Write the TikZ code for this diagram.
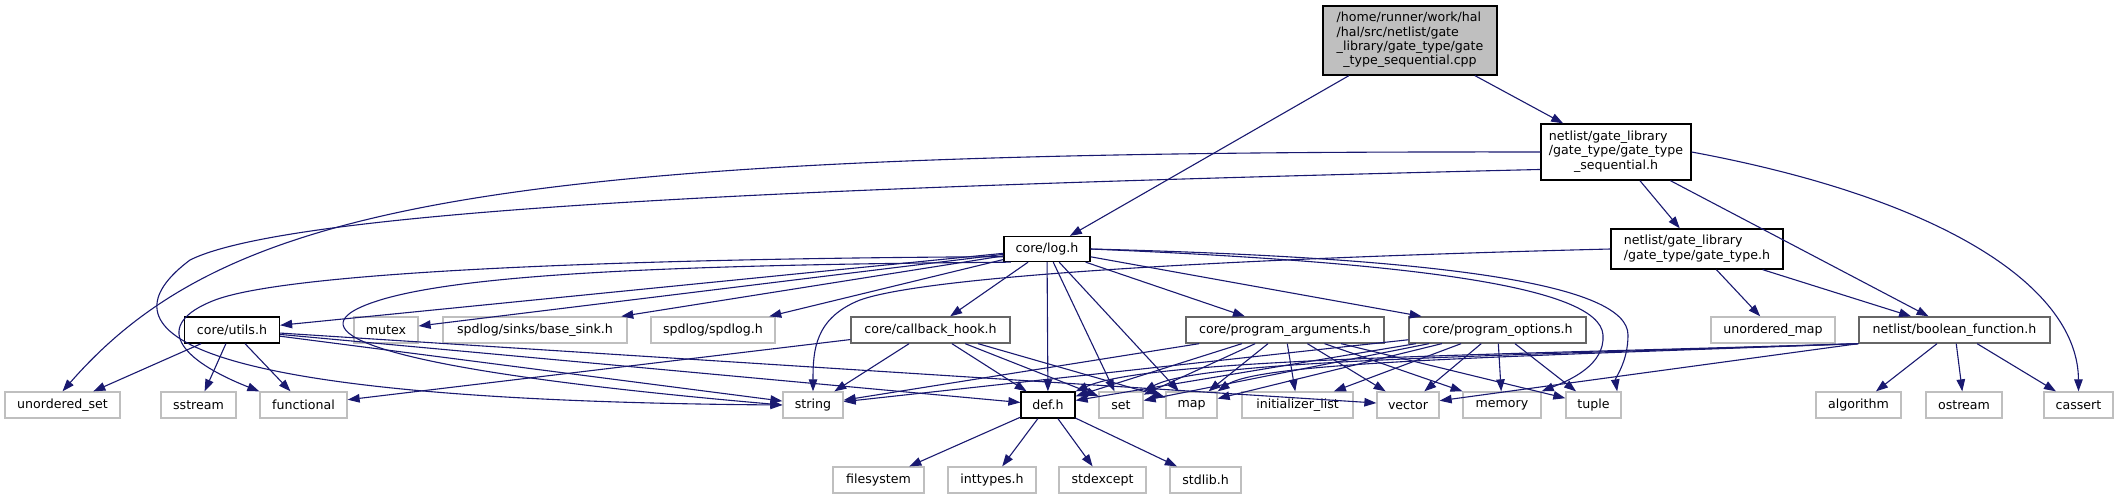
\documentclass[tikz,border=0pt]{standalone}
\usepackage{fontspec}
\setmainfont{DejaVu Sans}
\usetikzlibrary{arrows.meta}
\definecolor{edgeblue}{HTML}{191970}
\definecolor{grey75}{HTML}{BFBFBF}
\definecolor{grey40}{HTML}{666666}
\newcommand{\lastline}[1]{\multicolumn{1}{@{}c@{}}{#1}}

\begin{document}
\begin{tikzpicture}[x=1pt, y=-1pt,
 box/.style={rectangle, draw=black, line width=1.3pt, fill=white, minimum height=26pt, inner sep=0pt, font=\fontsize{12.6}{14.3}\selectfont},
 docbox/.style={box, draw=grey40},
 extbox/.style={box, draw=grey75},
 arr/.style={-{Triangle[length=12pt,width=8.5pt]}, draw=edgeblue, line width=1.1pt},
]
\useasboundingbox (0,0) rectangle (2119,499);

\node[box, fill=grey75, minimum width=174pt, minimum height=69pt] (root) at (1410,40.5)
 {\begin{tabular}{@{}l@{}}/home/runner/work/hal\\/hal/src/netlist/gate\\\_library/gate\_type/gate\\\lastline{\_type\_sequential.cpp}\end{tabular}};
\node[box, minimum width=150pt, minimum height=56pt] (gts) at (1616,152)
 {\begin{tabular}{@{}l@{}}netlist/gate\_library\\/gate\_type/gate\_type\\\lastline{\_sequential.h}\end{tabular}};
\node[box, minimum width=86pt, minimum height=25pt] (log) at (1047,249) {core/log.h};
\node[box, minimum width=172pt, minimum height=40pt] (gtype) at (1697,249)
 {\begin{tabular}{@{}l@{}}netlist/gate\_library\\/gate\_type/gate\_type.h\end{tabular}};

\node[box, minimum width=95pt] (utils) at (232,330) {core/utils.h};
\node[extbox, minimum width=64pt] (mutex) at (386,330) {mutex};
\node[extbox, minimum width=184pt] (sink) at (535,330) {spdlog/sinks/base\_sink.h};
\node[extbox, minimum width=124pt] (spd) at (713,330) {spdlog/spdlog.h};
\node[docbox, minimum width=159pt] (hook) at (930.5,330) {core/callback\_hook.h};
\node[docbox, minimum width=198pt] (args) at (1285,330) {core/program\_arguments.h};
\node[docbox, minimum width=177pt] (opts) at (1497.5,330) {core/program\_options.h};
\node[extbox, minimum width=124pt] (umap) at (1773,330) {unordered\_map};
\node[docbox, minimum width=191pt] (bfun) at (1954.5,330) {netlist/boolean\_function.h};

\node[extbox, minimum width=115pt] (uset) at (62.5,405) {unordered\_set};
\node[extbox, minimum width=75pt] (sstr) at (198.5,405) {sstream};
\node[extbox, minimum width=87pt] (func) at (303.5,405) {functional};
\node[extbox, minimum width=60pt] (str) at (813,405) {string};
\node[box, minimum width=54pt] (def) at (1048,405) {def.h};
\node[extbox, minimum width=44pt] (set) at (1121,405) {set};
\node[extbox, minimum width=51pt] (map) at (1191.5,405) {map};
\node[extbox, minimum width=111pt] (ilist) at (1297.5,405) {initializer\_list};
\node[extbox, minimum width=62pt] (vec) at (1408,405) {vector};
\node[extbox, minimum width=78pt] (mem) at (1502,405) {memory};
\node[extbox, minimum width=55pt] (tup) at (1593.5,405) {tuple};
\node[extbox, minimum width=85pt] (algo) at (1858.5,405) {algorithm};
\node[extbox, minimum width=76pt] (ostr) at (1964,405) {ostream};
\node[extbox, minimum width=69pt] (cass) at (2078.5,405) {cassert};

\node[extbox, minimum width=91pt] (fsys) at (878.5,480) {filesystem};
\node[extbox, minimum width=88pt] (intt) at (992,480) {inttypes.h};
\node[extbox, minimum width=87pt] (sexc) at (1102.5,480) {stdexcept};
\node[extbox, minimum width=71pt] (slib) at (1205.5,480) {stdlib.h};

\draw[arr] (root) -- (log);
\draw[arr] (root) -- (gts);

\draw[arr] (gts) -- (gtype);
\draw[arr] (gts) -- (bfun);
\draw[arr] (gts.east) .. controls (1950,200) and (2078,290) .. (cass.north);
\draw[arr] (gts.west) .. controls (500,150) and (230,200) .. (uset.north);
\draw[arr] (gts.193) .. controls (900,185) and (300,205) .. (190,260) .. controls (110,320) and (130,400) .. (str.west);

\draw[arr] (gtype) -- (umap);
\draw[arr] (gtype) -- (bfun);
\draw[arr] (gtype.west) .. controls (1250,258) and (930,275) .. (860,300) .. controls (815,318) and (813,350) .. (str.north);

\draw[arr] (log) -- (utils);
\draw[arr] (log) -- (mutex);
\draw[arr] (log) -- (sink);
\draw[arr] (log) -- (spd);
\draw[arr] (log) -- (hook);
\draw[arr] (log) -- (args);
\draw[arr] (log) -- (opts);
\draw[arr] (log) -- (def);
\draw[arr] (log) -- (set);
\draw[arr] (log) -- (map);
\draw[arr] (log.190) .. controls (700,258) and (300,268) .. (215,300) .. controls (150,325) and (180,360) .. (func.north west);
\draw[arr] (log.200) .. controls (650,265) and (420,275) .. (355,310) .. controls (310,335) and (380,370) .. (str.west);
\draw[arr] (log.east) .. controls (1400,262) and (1600,285) .. (1603,335) .. controls (1605,365) and (1570,380) .. (mem.north east);
\draw[arr] (log.east) .. controls (1450,258) and (1628,285) .. (1628,335) .. controls (1628,362) and (1615,378) .. (tup.30);

\draw[arr] (utils) -- (uset);
\draw[arr] (utils) -- (sstr);
\draw[arr] (utils) -- (func);
\draw[arr] (utils) -- (str);
\draw[arr] (utils) -- (def);
\draw[arr] (utils) -- (vec);

\draw[arr] (hook) -- (func);
\draw[arr] (hook) -- (str);
\draw[arr] (hook) -- (def);
\draw[arr] (hook) -- (set);
\draw[arr] (hook) -- (map);

\foreach \t in {str,def,set,map,ilist,vec,mem,tup}
 \draw[arr] (args) -- (\t);
\foreach \t in {str,def,set,map,ilist,vec,mem,tup}
 \draw[arr] (opts) -- (\t);

\draw[arr] (bfun.south west) .. controls (1500,355) and (1150,358) .. (def.north east);
\draw[arr] (bfun.south west) .. controls (1500,356) and (1200,360) .. (set.north east);
\draw[arr] (bfun.south west) .. controls (1500,357) and (1260,362) .. (map.north east);
\draw[arr] (bfun.south west) -- (vec);
\draw[arr] (bfun) -- (algo);
\draw[arr] (bfun) -- (ostr);
\draw[arr] (bfun) -- (cass);

\draw[arr] (def) -- (fsys);
\draw[arr] (def) -- (intt);
\draw[arr] (def) -- (sexc);
\draw[arr] (def) -- (slib);
\end{tikzpicture}
\end{document}
